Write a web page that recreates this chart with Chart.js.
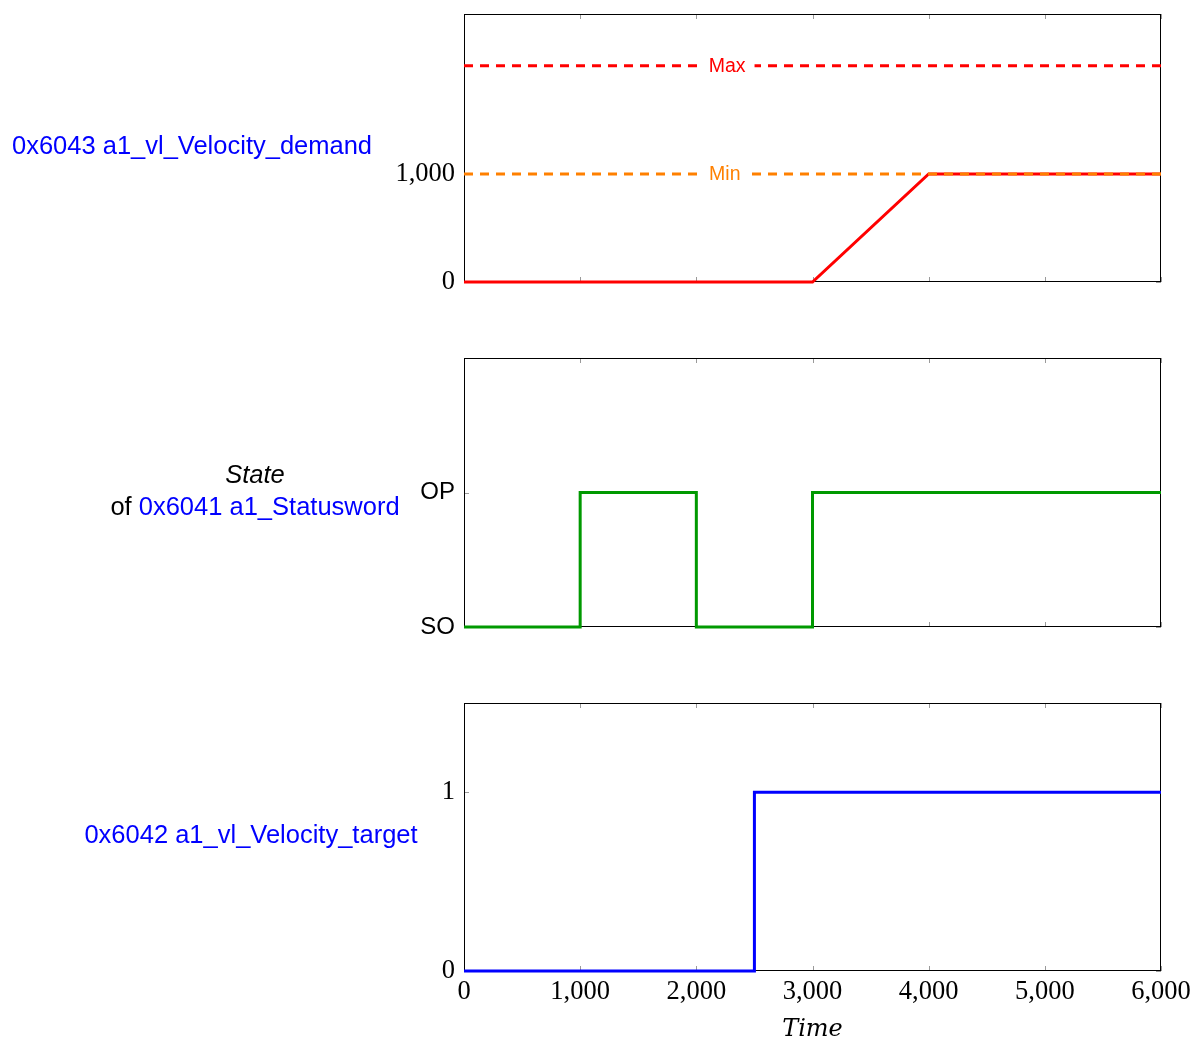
<!DOCTYPE html>
<html>
<head>
<meta charset="utf-8">
<script src="https://cdn.jsdelivr.net/npm/chart.js@4.4.1/dist/chart.umd.min.js"></script>
<style>
  html, body { margin: 0; padding: 0; background: #ffffff; }
  #wrap { position: relative; width: 1199px; height: 1044px; }
  #wrap canvas { position: absolute; left: 0; top: 0; }
</style>
</head>
<body>
<div id="wrap">
  <canvas id="c1" width="1199" height="1044"></canvas>
  <canvas id="c2" width="1199" height="1044"></canvas>
  <canvas id="c3" width="1199" height="1044"></canvas>
</div>
<script>
// ---------------- data ----------------
const xTicks = [0, 1000, 2000, 3000, 4000, 5000, 6000];

const velTime   = [0, 3000, 4000, 6000];
const velValues = [0, 0, 1000, 1000];
const velTicks  = [0, 1000];
const minLevel  = 1000;
const maxLevel  = 2000;

const stateTime   = [0, 1000, 2000, 3000, 6000];
const stateValues = [0, 1, 0, 1, 1];
const stateTicks  = [0, 1];
const stateNames  = ['SO', 'OP'];

const targetTime   = [0, 2500, 6000];
const targetValues = [0, 1, 1];
const targetTicks  = [0, 1];

// ---------------- style ----------------
const SERIF = '"Liberation Serif", "DejaVu Serif", serif';
const SANS  = '"Liberation Sans", "DejaVu Sans", sans-serif';
const RED = '#ff0000', ORANGE = '#ff8000', GREEN = '#009900', BLUE = '#0000ff';
const W = 1199, H = 1044, PLOT_LEFT = 464, PLOT_RIGHT = 1161;

function pts(xs, ys) { return xs.map((x, i) => ({ x: x, y: ys[i] })); }

const framePlugin = {
  id: 'frame',
  beforeDatasetsDraw(chart) {
    const { ctx, chartArea: a, scales } = chart;
    const x = scales.x, y = scales.y;
    ctx.save();
    ctx.strokeStyle = '#9a9a9a';
    ctx.lineWidth = 1;
    ctx.beginPath();
    xTicks.forEach(v => {
      const px = Math.round(x.getPixelForValue(v)) + 0.5;
      ctx.moveTo(px, a.top); ctx.lineTo(px, a.top + 5);
      ctx.moveTo(px, a.bottom); ctx.lineTo(px, a.bottom - 5);
    });
    y.ticks.forEach(t => {
      const py = Math.round(y.getPixelForValue(t.value)) + 0.5;
      ctx.moveTo(a.left, py); ctx.lineTo(a.left + 5, py);
      ctx.moveTo(a.right, py); ctx.lineTo(a.right - 5, py);
    });
    ctx.stroke();
    ctx.strokeStyle = '#000000';
    ctx.strokeRect(Math.round(a.left) + 0.5, Math.round(a.top) + 0.5,
                   Math.round(a.width) - 1, Math.round(a.height) - 1);
    ctx.restore();
  },
  afterDatasetsDraw(chart, args, opts) {
    const { ctx, scales } = chart;
    (opts.refLabels || []).forEach(l => {
      ctx.save();
      ctx.font = '19.5px ' + SANS;
      ctx.textAlign = 'center';
      ctx.textBaseline = 'middle';
      const px = scales.x.getPixelForValue(l.at);
      const py = scales.y.getPixelForValue(l.value);
      const w = ctx.measureText(l.text).width;
      ctx.fillStyle = '#ffffff';
      ctx.fillRect(px - w / 2 - 9, py - 10, w + 18, 20);
      ctx.fillStyle = l.color;
      ctx.fillText(l.text, px, py + 1);
      ctx.restore();
    });
  },
  afterDraw(chart, args, opts) {
    const { ctx } = chart;
    (opts.side || []).forEach(line => {
      ctx.save();
      ctx.textBaseline = 'middle';
      ctx.textAlign = 'left';
      let total = 0;
      line.parts.forEach(p => { ctx.font = p.font; total += ctx.measureText(p.text).width; });
      let cx = line.cx - total / 2;
      line.parts.forEach(p => {
        ctx.font = p.font;
        ctx.fillStyle = p.color;
        ctx.fillText(p.text, cx, line.cy);
        cx += ctx.measureText(p.text).width;
      });
      ctx.restore();
    });
  }
};

function yAxis(min, max, ticks, fmt, font) {
  return {
    type: 'linear', min: min, max: max,
    afterBuildTicks: s => { s.ticks = ticks.map(v => ({ value: v })); },
    afterFit: s => { s.width = PLOT_LEFT; s.paddingTop = 0; s.paddingBottom = 0; },
    grid: { display: false, drawTicks: false },
    border: { display: false },
    ticks: { callback: fmt, font: font, color: '#000000', padding: 9 }
  };
}

function hiddenX() {
  return { type: 'linear', min: 0, max: 6000, display: false };
}

function makeChart(id, datasets, scales, padding, pluginOpts) {
  return new Chart(document.getElementById(id), {
    type: 'line',
    data: { datasets: datasets },
    options: {
      responsive: false,
      animation: false,
      layout: { padding: padding },
      plugins: { legend: { display: false }, tooltip: { enabled: false }, frame: pluginOpts },
      elements: { point: { radius: 0 }, line: { tension: 0 } },
      scales: scales
    },
    plugins: [framePlugin]
  });
}

const SIDE_FONT = '25.5px ' + SANS;

// Panel 1: velocity demand
makeChart('c1', [
  { data: pts([0, 6000], [minLevel, minLevel]), borderColor: ORANGE, borderWidth: 3, borderDash: [9, 7], clip: false },
  { data: pts([0, 6000], [maxLevel, maxLevel]), borderColor: RED, borderWidth: 3, borderDash: [9, 7], clip: false },
  { data: pts(velTime, velValues), borderColor: RED, borderWidth: 3, clip: false }
], {
  x: hiddenX(),
  y: yAxis(0, 2480, velTicks, v => v.toLocaleString('en-US'), { family: SERIF, size: 26.5 })
}, { top: 14, bottom: H - 282, left: 0, right: W - PLOT_RIGHT }, {
  refLabels: [
    { text: 'Max', value: maxLevel, at: 2265, color: RED },
    { text: 'Min', value: minLevel, at: 2245, color: ORANGE }
  ],
  side: [
    { cx: 192, cy: 147, parts: [{ text: '0x6043 a1_vl_Velocity_demand', font: SIDE_FONT, color: BLUE }] }
  ]
});

// Panel 2: state
makeChart('c2', [
  { data: pts(stateTime, stateValues), borderColor: GREEN, borderWidth: 3, stepped: 'before', clip: false }
], {
  x: hiddenX(),
  y: yAxis(0, 2, stateTicks, v => stateNames[v], { family: SANS, size: 24 })
}, { top: 358, bottom: H - 627, left: 0, right: W - PLOT_RIGHT }, {
  side: [
    { cx: 255, cy: 476, parts: [{ text: 'State', font: 'italic ' + SIDE_FONT, color: '#000000' }] },
    { cx: 255, cy: 508, parts: [
      { text: 'of ', font: SIDE_FONT, color: '#000000' },
      { text: '0x6041 a1_Statusword', font: SIDE_FONT, color: BLUE }
    ] }
  ]
});

// Panel 3: velocity target
makeChart('c3', [
  { data: pts(targetTime, targetValues), borderColor: BLUE, borderWidth: 3, stepped: 'before', clip: false }
], {
  x: {
    type: 'linear', min: 0, max: 6000,
    afterBuildTicks: s => { s.ticks = xTicks.map(v => ({ value: v })); },
    afterFit: s => { s.height = H - 971; },
    grid: { display: false, drawTicks: false },
    border: { display: false },
    ticks: { callback: v => v.toLocaleString('en-US'), font: { family: SERIF, size: 26.5 }, color: '#000000', padding: 5, maxRotation: 0, autoSkip: false },
    title: { display: true, text: 'Time', color: '#000000', font: { family: '"DejaVu Serif", serif', size: 24, style: 'italic' }, padding: { top: 0, bottom: 0 } }
  },
  y: yAxis(0, 1.5, targetTicks, v => String(v), { family: SERIF, size: 26.5 })
}, { top: 703, bottom: 0, left: 0, right: W - PLOT_RIGHT }, {
  side: [
    { cx: 251, cy: 836, parts: [{ text: '0x6042 a1_vl_Velocity_target', font: SIDE_FONT, color: BLUE }] }
  ]
});
</script>
</body>
</html>
